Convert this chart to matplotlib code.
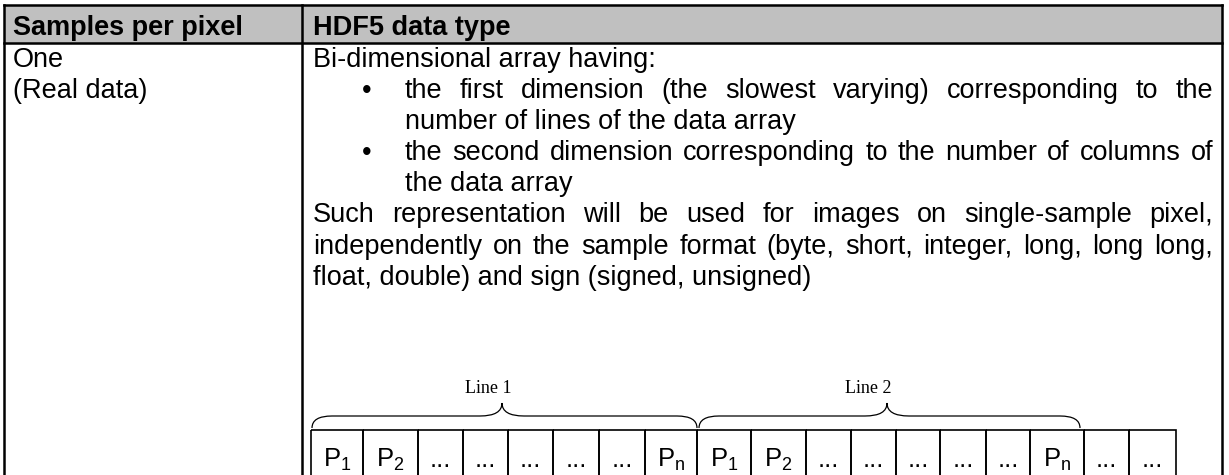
import matplotlib
matplotlib.use("Agg")
import matplotlib.pyplot as plt
from matplotlib.path import Path
from matplotlib.patches import PathPatch, Rectangle

plt.rcParams['font.family'] = ['Liberation Sans', 'DejaVu Sans']
plt.rcParams['mathtext.fontset'] = 'custom'
plt.rcParams['mathtext.rm'] = 'Liberation Sans'

#%% Content
header = ["Samples per pixel", "HDF5 data type"]
left_col = ["One", "(Real data)"]
# (text, style): plain / bullet_j (bullet, justified) / indent / just (justified)
right_col = [
    ("Bi-dimensional array having:", "plain"),
    ("the first dimension (the slowest varying) corresponding to the", "bullet_j"),
    ("number of lines of the data array", "indent"),
    ("the second dimension corresponding to the number of columns of", "bullet_j"),
    ("the data array", "indent"),
    ("Such representation will be used for images on single-sample pixel,", "just"),
    ("independently on the sample format (byte, short, integer, long, long long,", "just"),
    ("float, double) and sign (signed, unsigned)", "plain"),
]
cell_labels = ["P_1", "P_2", "...", "...", "...", "...", "...", "P_n",
               "P_1", "P_2", "...", "...", "...", "...", "...", "P_n",
               "...", "..."]
brace_labels = ["Line 1", "Line 2"]

#%% Layout (pixels)
W, H = 1229, 475
x_left, x_div, x_right = 4, 302, 1222
y_top, y_head = 5, 43
fs = 19.5
base0, step = 67, 31.1
cell_x = [311, 363, 418, 463, 508, 553, 599, 645, 697,
          751, 806, 851, 896, 940, 986, 1030, 1084, 1129, 1176]
cell_top = 430
brace_spans = [(312, 697, 502), (699, 1080, 887)]
label_x = [488, 868]

fig = plt.figure(figsize=(W / 100, H / 100), dpi=100)
ax = fig.add_axes([0, 0, 1, 1])
ax.set_xlim(0, W)
ax.set_ylim(H, 0)
ax.axis('off')
renderer = fig.canvas.get_renderer()


def text_w(s, **kw):
    t = ax.text(0, 0, s, **kw)
    w = t.get_window_extent(renderer).width
    t.remove()
    return w


def put_line(s, x0, x1, y, justify):
    if not justify:
        ax.text(x0, y, s, fontsize=fs, va='baseline', ha='left')
        return
    words = s.split(' ')
    widths = [text_w(w, fontsize=fs) for w in words]
    gap = (x1 - x0 - sum(widths)) / (len(words) - 1)
    x = x0
    for w, ww in zip(words, widths):
        ax.text(x, y, w, fontsize=fs, va='baseline', ha='left')
        x += ww + gap


# header background and table lines
ax.add_patch(Rectangle((x_left, y_top), x_right - x_left, y_head - y_top,
                       facecolor='#c0c0c0', edgecolor='none'))
lw = 1.8
ax.plot([x_left, x_right], [y_top, y_top], color='k', lw=lw, solid_capstyle='projecting')
ax.plot([x_left, x_right], [y_head, y_head], color='k', lw=lw)
for xx in (x_left, x_div, x_right):
    ax.plot([xx, xx], [y_top, H + 5], color='k', lw=lw, solid_capstyle='projecting')

ax.text(13, 35, header[0], fontsize=fs, weight='bold', va='baseline')
ax.text(313, 35, header[1], fontsize=fs, weight='bold', va='baseline')

for i, s in enumerate(left_col):
    ax.text(13, base0 + i * step, s, fontsize=fs, va='baseline')

x_txt, x_bul, x_ind, x_end = 313, 362, 405, 1213
for i, (s, style) in enumerate(right_col):
    y = base0 + i * step
    if style == "plain":
        put_line(s, x_txt, x_end, y, False)
    elif style == "indent":
        put_line(s, x_ind, x_end, y, False)
    elif style == "bullet_j":
        ax.text(x_bul, y, "\u2022", fontsize=fs, va='baseline')
        put_line(s, x_ind, x_end, y, True)
    else:
        put_line(s, x_txt, x_end, y, True)

# pixel cells
for i, lab in enumerate(cell_labels):
    xa, xb = cell_x[i], cell_x[i + 1]
    ax.add_patch(Rectangle((xa, cell_top), xb - xa, 60, facecolor='none',
                           edgecolor='k', lw=1.2))
    s = r"$\mathregular{%s}$" % lab if lab.startswith("P") else lab
    ax.text((xa + xb) / 2, 467, s, fontsize=18.5, ha='center', va='baseline')


# braces
def brace(x0, x1, xc, yb=428, ym=416, yt=403, k=20, kc=22):
    verts = [(x0, yb), (x0, ym), (x0 + k, ym), (xc - kc, ym), (xc, ym), (xc, yt),
             (xc, ym), (xc + kc, ym), (x1 - k, ym), (x1, ym), (x1, yb)]
    codes = [Path.MOVETO, Path.CURVE3, Path.CURVE3, Path.LINETO, Path.CURVE3, Path.CURVE3,
             Path.CURVE3, Path.CURVE3, Path.LINETO, Path.CURVE3, Path.CURVE3]
    ax.add_patch(PathPatch(Path(verts, codes), facecolor='none', edgecolor='k', lw=0.9))


for lab, (x0, x1, xc), lx in zip(brace_labels, brace_spans, label_x):
    brace(x0, x1, xc)
    ax.text(lx, 393, lab, fontsize=13, family='Liberation Serif',
            ha='center', va='baseline')

plt.savefig('out.png', dpi=100)
